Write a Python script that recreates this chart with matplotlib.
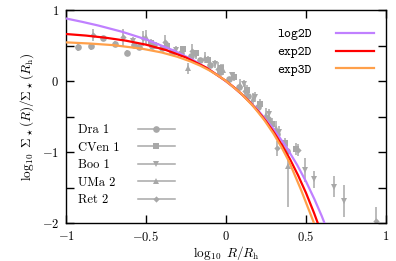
import matplotlib
matplotlib.use("Agg")
import matplotlib.pyplot as plt
from matplotlib.lines import Line2D

plt.rcParams["font.family"] = "serif"
plt.rcParams["font.serif"] = ["cmr10"]
plt.rcParams["mathtext.fontset"] = "cm"
plt.rcParams["axes.formatter.use_mathtext"] = True

# model curves
log2d_x = [-1.0, -0.9, -0.799, -0.65, -0.498, -0.322, -0.197, -0.100, -0.021, 0.046,
           0.104, 0.155, 0.201, 0.298, 0.377, 0.444, 0.502, 0.553, 0.599, 0.640]
log2d_y = [0.881, 0.834, 0.782, 0.694, 0.585, 0.425, 0.285, 0.155, 0.031, -0.085,
           -0.198, -0.308, -0.415, -0.677, -0.931, -1.179, -1.424, -1.666, -1.905, -2.142]

exp2d_x = [-1.0, -0.875, -0.75, -0.625, -0.5, -0.375, -0.25, -0.125, 0.0, 0.05, 0.1,
           0.15, 0.2, 0.25, 0.3, 0.35, 0.4, 0.45, 0.5, 0.55, 0.58]
exp2d_y = [0.662, 0.640, 0.609, 0.568, 0.512, 0.436, 0.331, 0.190, 0.0, -0.089, -0.189,
           -0.301, -0.426, -0.567, -0.726, -0.903, -1.102, -1.326, -1.576, -1.857, -2.04]

exp3d_x = [-1.004, -0.85, -0.703, -0.527, -0.402, -0.305, -0.226, -0.159, -0.101, -0.050,
           -0.004, 0.093, 0.172, 0.239, 0.297, 0.348, 0.394, 0.469, 0.539, 0.56]
exp3d_y = [0.545, 0.528, 0.505, 0.456, 0.402, 0.342, 0.279, 0.214, 0.146, 0.077,
           0.007, -0.173, -0.359, -0.549, -0.742, -0.937, -1.134, -1.533, -1.937, -2.06]

# stacked profiles of the five dwarfs
dra_x = [-0.925, -0.846, -0.767, -0.696, -0.617, -0.577, -0.542, -0.46, -0.40, -0.34, -0.28,
         -0.22, -0.16, -0.10, -0.04, 0.02, 0.08, 0.14, 0.20, 0.26, 0.32, 0.38]
dra_y = [0.475, 0.49, 0.60, 0.52, 0.40, 0.51, 0.475, 0.50, 0.46, 0.41, 0.40,
         0.35, 0.30, 0.22, 0.13, 0.03, -0.09, -0.21, -0.36, -0.53, -0.74, -0.98]
dra_err = [0.05, 0.05, 0.04, 0.04, 0.04, 0.04, 0.04, 0.04, 0.03, 0.03, 0.03,
           0.03, 0.03, 0.03, 0.03, 0.03, 0.03, 0.04, 0.04, 0.05, 0.06, 0.08]

cven_x = [-0.47, -0.37, -0.27, -0.19, -0.11, -0.03, 0.05, 0.13, 0.21, 0.29, 0.37, 0.44]
cven_y = [0.53, 0.49, 0.45, 0.39, 0.30, 0.19, 0.06, -0.12, -0.32, -0.60, -0.88, -0.96]
cven_err = [0.06, 0.06, 0.05, 0.05, 0.05, 0.05, 0.06, 0.06, 0.07, 0.08, 0.08, 0.08]

boo_x = [-0.58, -0.44, -0.31, -0.19, -0.07, 0.04, 0.11, 0.18, 0.27, 0.33, 0.494, 0.55, 0.677, 0.74]
boo_y = [0.56, 0.50, 0.44, 0.36, 0.24, 0.08, -0.04, -0.22, -0.47, -0.72, -1.25, -1.385, -1.49, -1.69]
boo_err = [0.06, 0.05, 0.05, 0.05, 0.05, 0.05, 0.05, 0.06, 0.07, 0.08, 0.17, 0.12, 0.15, 0.22]

uma_x = [-0.5, -0.235, -0.13, -0.02, 0.09, 0.17, 0.25, 0.31, 0.39]
uma_y = [0.62, 0.18, 0.33, 0.16, -0.05, -0.25, -0.48, -0.66, -1.2]
uma_lo = [0.1, 0.08, 0.08, 0.08, 0.08, 0.08, 0.1, 0.1, 0.57]
uma_hi = [0.1, 0.08, 0.08, 0.08, 0.08, 0.08, 0.1, 0.1, 0.09]

ret_x = [-0.833, -0.642, -0.519, -0.38, -0.21, -0.05, 0.12, 0.317, 0.45, 0.94]
ret_y = [0.65, 0.615, 0.60, 0.55, 0.42, 0.17, -0.14, -0.95, -0.97, -1.97]
ret_err = [0.08, 0.12, 0.1, 0.1, 0.1, 0.1, 0.1, 0.1, 0.08, 0.2]

x_ticks = [-1, -0.5, 0, 0.5, 1]
x_labels = ["$-1$", "$-0.5$", "$0$", "$0.5$", "$1$"]
y_ticks = [-2, -1.5, -1, -0.5, 0, 0.5, 1]
y_labels = ["$-2$", "", "$-1$", "", "$0$", "", "$1$"]

gray = "#a8a8a8"

fig = plt.figure(figsize=(3.96, 2.61), dpi=100)
ax = fig.add_axes([0.1667, 0.1456, 0.808, 0.816])

galaxies = [
    ("Dra 1", dra_x, dra_y, dra_err, "o", 4.8),
    ("CVen 1", cven_x, cven_y, cven_err, "s", 4.5),
    ("Boo 1", boo_x, boo_y, boo_err, "v", 4.8),
    ("UMa 2", uma_x, uma_y, [uma_lo, uma_hi], "^", 4.8),
    ("Ret 2", ret_x, ret_y, ret_err, "D", 3.2),
]
gal_handles = []
for name, gx, gy, gerr, mk, ms in galaxies:
    ax.errorbar(gx, gy, yerr=gerr, fmt=mk, ms=ms, color=gray, ecolor=gray,
                elinewidth=1.1, capsize=0, mew=0, zorder=2)
    gal_handles.append(Line2D([], [], color=gray, lw=1.1, marker=mk, ms=ms, mew=0, label=name))

l1, = ax.plot(log2d_x, log2d_y, color="#c080ff", lw=1.6, label="log2D", zorder=3)
l2, = ax.plot(exp2d_x, exp2d_y, color="#ff0000", lw=1.6, label="exp2D", zorder=4)
l3, = ax.plot(exp3d_x, exp3d_y, color="#ffa04a", lw=1.6, label="exp3D", zorder=5)

ax.set_xlim(-1, 1)
ax.set_ylim(-2, 1)
ax.set_xticks(x_ticks)
ax.set_xticklabels(x_labels)
ax.set_yticks(y_ticks)
ax.set_yticklabels(y_labels)
ax.tick_params(direction="in", length=6, width=1, top=True, right=True, labelsize=9, pad=5)
for s in ax.spines.values():
    s.set_linewidth(1)

ax.set_xlabel(r"$\log_{10}\ R/R_{\rm h}$", fontsize=9.5, labelpad=0)
ax.set_ylabel(r"$\log_{10}\ \Sigma_\star(R)/\Sigma_\star(R_{\rm h})$", fontsize=9.5, labelpad=4)

leg1 = ax.legend(handles=[l1, l2, l3], loc="upper right", bbox_to_anchor=(0.9625, 0.915),
                 frameon=False, markerfirst=False, borderpad=0, borderaxespad=0,
                 handlelength=2.9, handletextpad=1.8, labelspacing=0.42,
                 prop={"family": "cmtt10", "size": 9.5})
ax.add_artist(leg1)

leg2 = ax.legend(handles=gal_handles, loc="lower left", bbox_to_anchor=(0.0375, 0.08),
                 frameon=False, markerfirst=False, borderpad=0, borderaxespad=0,
                 handlelength=2.96, handletextpad=1.44, labelspacing=0.42, numpoints=1,
                 prop={"family": "serif", "size": 9})

# left-justify the galaxy names like the original key
fig.canvas.draw()
texts = leg2.get_texts()
widths = [t.get_window_extent().width for t in texts]
for t, w in zip(texts, widths):
    t.set_x(w - max(widths))

fig.savefig("out.png", dpi=100)
